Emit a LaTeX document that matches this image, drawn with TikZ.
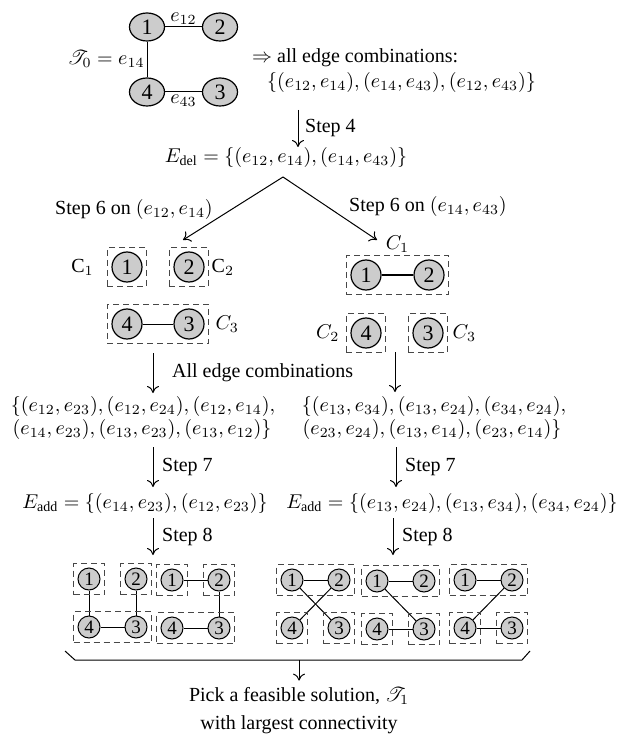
\documentclass[tikz,border=0pt]{standalone}
\usepackage{fontspec}
\setmainfont{Liberation Serif}
\usepackage{mathrsfs}
\usetikzlibrary{arrows.meta, shapes.geometric, fit}
\definecolor{NodeGray}{gray}{0.80}
\definecolor{BoxGray}{gray}{0.28}

\tikzset{
  vbig/.style={ellipse, draw, fill=NodeGray, line width=0.6pt, minimum width=17.5pt, minimum height=14pt, inner sep=0pt, font=\fontsize{11}{11}\selectfont},
  vmid/.style={circle, draw, fill=NodeGray, line width=0.6pt, minimum size=15pt, inner sep=0pt, font=\fontsize{11}{11}\selectfont},
  vsml/.style={circle, draw, fill=NodeGray, line width=0.5pt, minimum size=11pt, inner sep=0pt, font=\fontsize{9.5}{9.5}\selectfont},
  cbox/.style={draw=BoxGray, dash pattern=on 3pt off 2pt, line width=0.6pt, inner sep=2pt},
  flecha/.style={-{To[length=3.5pt, width=6pt]}, line width=0.5pt},
  conj/.style={inner sep=1pt},
}

\begin{document}
\begin{tikzpicture}[x=0.5pt, y=-0.5pt, line width=0.5pt]
\useasboundingbox (0,0) rectangle (627,737);

% grafo inicial
\node[vbig] (t1) at (147,27) {1};
\node[vbig] (t2) at (220,27) {2};
\node[vbig] (t4) at (147,92) {4};
\node[vbig] (t3) at (220,92) {3};
\draw (t1) -- node[above, inner sep=1pt] (e12) {$e_{12}$} (t2);
\draw (t1) -- node[left, inner sep=1pt] (e14) {$\mathscr{T}_0 = e_{14}$} (t4);
\draw (t4) -- node[below, inner sep=1pt] (e43) {$e_{43}$} (t3);
\node[anchor=west] (comb) at (245,58) {$\Rightarrow$ all edge combinations:};
\node[anchor=west] (combset) at (260,83) {$\{(e_{12}, e_{14}), (e_{14}, e_{43}), (e_{12}, e_{43})\}$};

% paso 4
\coordinate (s4a) at (298,110);
\coordinate (s4b) at (298,147);
\draw[flecha] (s4a) -- node[right] (s4) {Step 4} (s4b);
\node (edel) at (286,158) {$E_{\mathrm{del}} = \{(e_{12}, e_{14}), (e_{14}, e_{43})\}$};

% paso 6
\coordinate (apex) at (283,177);
\coordinate (l6) at (183,240);
\coordinate (r6) at (377,240);
\draw[flecha] (apex) -- (l6);
\draw[flecha] (apex) -- (r6);
\node (l6lab) at (134,210) {Step 6 on $(e_{12}, e_{14})$};
\node (r6lab) at (428,207) {Step 6 on $(e_{14}, e_{43})$};

% componentes izquierda
\node[vmid] (a1) at (127,267) {1};
\node[vmid] (a2) at (189,267) {2};
\node[vmid] (a4) at (127,324) {4};
\node[vmid] (a3) at (189,324) {3};
\draw (a4) -- (a3);
\node[cbox, fit=(a1)] (ac1) {};
\node[cbox, fit=(a2)] (ac2) {};
\node[cbox, fit=(a4)(a3)] (ac3) {};
\node[left=3pt] (acl1) at (ac1.west) {$\mathrm{C}_1$};
\node[right=0pt, inner sep=1pt] (acl2) at (ac2.east) {$\mathrm{C}_2$};
\node[right=2pt, inner sep=1pt] (acl3) at (ac3.east) {$C_3$};

% componentes derecha
\node[vmid] (b1) at (366,275) {1};
\node[vmid] (b2) at (429,275) {2};
\node[vmid] (b4) at (366,333) {4};
\node[vmid] (b3) at (428,333) {3};
\draw (b1) -- (b2);
\node[cbox, fit=(b1)(b2)] (bc1) {};
\node[cbox, fit=(b4)] (bc2) {};
\node[cbox, fit=(b3)] (bc3) {};
\node[above, inner sep=1pt] (bcl1) at (bc1.north) {$C_1$};
\node[left=2pt, inner sep=1pt] (bcl2) at (bc2.west) {$C_2$};
\node[right=1pt, inner sep=1pt] (bcl3) at (bc3.east) {$C_3$};

% combinaciones
\coordinate (ca) at (153,353);
\coordinate (cb) at (153,393);
\coordinate (cc) at (395,352);
\coordinate (cd) at (395,392);
\draw[flecha] (ca) -- node[right=6pt] (alle) {All edge combinations} (cb);
\draw[flecha] (cc) -- (cd);
\node[conj] (lset1) at (143,406) {$\{(e_{12}, e_{23}), (e_{12}, e_{24}), (e_{12}, e_{14}),$};
\node[conj] (lset2) at (142,429) {$(e_{14}, e_{23}), (e_{13}, e_{23}), (e_{13}, e_{12})\}$};
\node[conj] (rset1) at (434,406) {$\{(e_{13}, e_{34}), (e_{13}, e_{24}), (e_{34}, e_{24}),$};
\node[conj] (rset2) at (432,429) {$(e_{23}, e_{24}), (e_{13}, e_{14}), (e_{23}, e_{14})\}$};

% paso 7
\coordinate (la7) at (153,447);
\coordinate (lb7) at (153,487);
\coordinate (ra7) at (396,447);
\coordinate (rb7) at (396,487);
\draw[flecha] (la7) -- node[right=1pt] (ls7) {Step 7} (lb7);
\draw[flecha] (ra7) -- node[right=1pt] (rs7) {Step 7} (rb7);
\node (ladd) at (145,503) {$E_{\mathrm{add}} = \{(e_{14}, e_{23}), (e_{12}, e_{23})\}$};
\node (radd) at (452,503) {$E_{\mathrm{add}} = \{(e_{13}, e_{24}), (e_{13}, e_{34}), (e_{34}, e_{24})\}$};

% paso 8
\coordinate (la8) at (153,518);
\coordinate (lb8) at (153,555);
\coordinate (ra8) at (393,518);
\coordinate (rb8) at (393,555);
\draw[flecha] (la8) -- node[right=1pt] (ls8) {Step 8} (lb8);
\draw[flecha] (ra8) -- node[right=1pt] (rs8) {Step 8} (rb8);

% soluciones: nombre/x/y
\foreach \g/\x/\y in {p/89/579, q/172/580, r/292/580, s/377/581, u/465/580}{
  \node[vsml] (\g1) at (\x,\y) {1};
  \node[vsml] (\g2) at (\x+47,\y) {2};
  \node[vsml] (\g4) at (\x,\y+48) {4};
  \node[vsml] (\g3) at (\x+47,\y+48) {3};
}
\foreach \a/\b in {p1/p4, p2/p3, p4/p3, q1/q2, q2/q3, q4/q3, r1/r2, r1/r3, r2/r4,
    s1/s2, s1/s3, s4/s3, u1/u2, u2/u4, u4/u3}
  \draw (\a) -- (\b);
\foreach \a/\b in {p1/p1, p2/p2, p4/p3, q1/q1, q2/q2, q4/q3, r1/r2, r4/r4, r3/r3,
    s1/s2, s4/s4, s3/s3, u1/u2, u4/u4, u3/u3}
  \node[cbox, fit=(\a)(\b)] (box-\a-\b) {};

% llave y resultado
\coordinate (bl) at (65,651);
\coordinate (blb) at (75,660);
\coordinate (bmid) at (299,660);
\coordinate (brb) at (522,660);
\coordinate (br) at (530,651);
\draw (bl) -- (blb) -- (brb) -- (br);
\node[align=center, font=\fontsize{10}{14}\selectfont] (pick) at (299,711)
  {Pick a feasible solution, $\mathscr{T}_1$\\with largest connectivity};
\draw[flecha] (bmid) -- (pick.north);

\end{tikzpicture}
\end{document}
